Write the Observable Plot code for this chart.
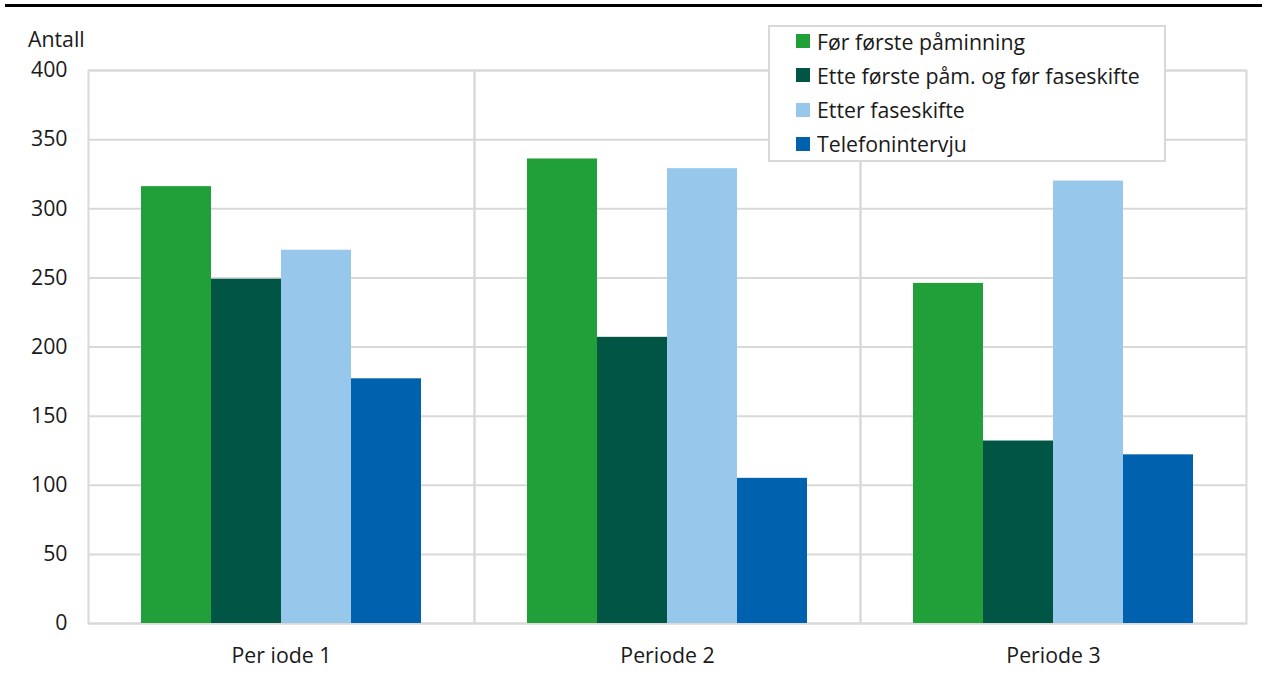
<!DOCTYPE html>
<html>
<head>
<meta charset="utf-8">
<script src="https://cdn.jsdelivr.net/npm/d3@7"></script>
<script src="https://cdn.jsdelivr.net/npm/@observablehq/plot@0.6"></script>
<style>
  html, body { margin: 0; padding: 0; background: #fff; }
  body { font-family: "Open Sans", sans-serif; color: #1a1a1a; }
  #wrap { position: relative; width: 1262px; height: 677px; overflow: hidden; }
  #topline { position: absolute; left: 5px; right: 0; top: 4px; height: 3px; background: #000; }
  #ylabel { position: absolute; left: 28px; top: 25px; font-size: 21.3px; line-height: 28px; }
  #chart { position: absolute; left: 0; top: 0; }
  #legend { position: absolute; left: 768px; top: 25px; width: 394px; height: 133px;
            border: 2px solid #d9d9d9; background: #fff; font-size: 21.3px; }
  .item { position: absolute; left: 26px; display: flex; align-items: center; height: 28px; white-space: nowrap; }
  .sw { width: 14px; height: 14px; margin-right: 7px; }
</style>
</head>
<body>
<div id="wrap">
  <div id="chart"></div>
  <div id="topline"></div>
  <div id="ylabel">Antall</div>
  <div id="legend"></div>
</div>
<script>
const periods = ["Per iode 1", "Periode 2", "Periode 3"];
const series = ["Før første påminning", "Ette første påm. og før faseskifte", "Etter faseskifte", "Telefonintervju"];
const colors = ["#21a03a", "#005544", "#97c8ec", "#0062af"];
const valuesFoer = [316, 336, 246];
const valuesEtte = [249, 207, 132];
const valuesEtter = [270, 329, 320];
const valuesTelefon = [177, 105, 122];
const yTicks = [0, 50, 100, 150, 200, 250, 300, 350, 400];

const seriesValues = [valuesFoer, valuesEtte, valuesEtter, valuesTelefon];
const data = [];
periods.forEach((p, i) => {
  series.forEach((s, j) => data.push({period: p, series: s, value: seriesValues[j][i]}));
});

const chart = Plot.plot({
  width: 1262,
  height: 677,
  marginLeft: 88,
  marginRight: 16,
  marginTop: 70,
  marginBottom: 54,
  style: {fontFamily: "Open Sans", fontSize: "21.3px", color: "#1a1a1a", background: "transparent"},
  fx: {domain: periods, padding: 0, axis: "bottom", label: null, tickSize: 0, tickPadding: 24},
  x: {domain: series, paddingInner: 0, paddingOuter: 0.75, axis: null},
  y: {domain: [0, 400], ticks: yTicks, label: null},
  color: {domain: series, range: colors},
  marks: [
    Plot.gridY(yTicks, {stroke: "#d9d9d9", strokeOpacity: 1, strokeWidth: 2}),
    Plot.frame({stroke: "#d9d9d9", strokeWidth: 2}),
    Plot.axisY(yTicks, {tickSize: 0, tickPadding: 21, label: null}),
    Plot.barY(data, {fx: "period", x: "series", y: "value", fill: "series"})
  ]
});
document.getElementById("chart").appendChild(chart);

const legend = document.getElementById("legend");
series.forEach((s, j) => {
  const it = document.createElement("div");
  it.className = "item";
  it.style.top = (0 + j * 34.3) + "px";
  const sw = document.createElement("div");
  sw.className = "sw";
  sw.style.background = colors[j];
  const tx = document.createElement("span");
  tx.textContent = s;
  it.appendChild(sw);
  it.appendChild(tx);
  legend.appendChild(it);
});
</script>
</body>
</html>
